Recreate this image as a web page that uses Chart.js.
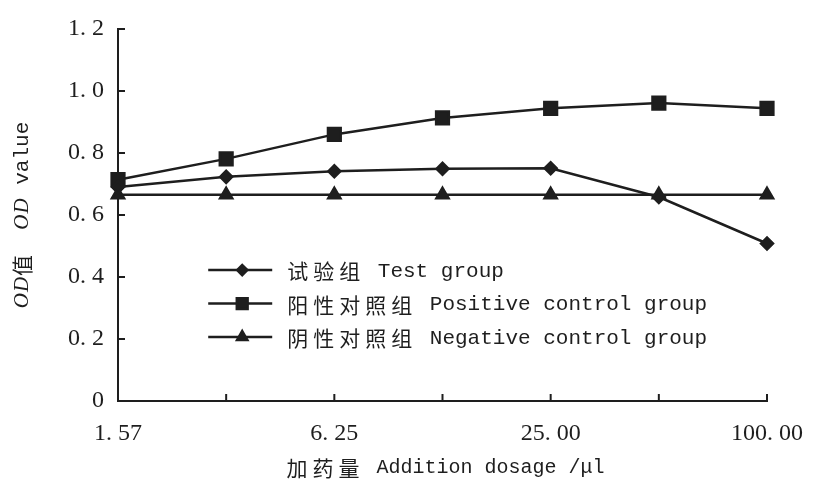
<!DOCTYPE html>
<html>
<head>
<meta charset="utf-8">
<script src="https://cdn.jsdelivr.net/npm/chart.js@4.4.0/dist/chart.umd.min.js"></script>
<style>
  html, body { margin: 0; padding: 0; background: #fff; }
  #wrap { width: 813px; height: 485px; }
</style>
</head>
<body>
<div id="wrap"><canvas id="myChart" width="813" height="485"></canvas></div>
<script>
// doses (ul), every other one gets a label
const doses = ['1.57', '3.13', '6.25', '12.50', '25.00', '50.00', '100.00'];
const xTickLabels = ['1. 57', '', '6. 25', '', '25. 00', '', '100. 00'];

const testGroup = [0.69, 0.723, 0.741, 0.749, 0.751, 0.658, 0.508];
const positiveGroup = [0.714, 0.781, 0.86, 0.913, 0.944, 0.961, 0.944];
const negativeGroup = [0.665, 0.665, 0.665, 0.665, 0.665, 0.665, 0.665];

const seriesCn = ['试验组', '阳性对照组', '阴性对照组'];
const seriesEn = ['Test group', 'Positive control group', 'Negative control group'];

const ink = '#1e1e1e';
const serif = "'Liberation Serif', 'Noto Sans CJK SC', serif";
const mono = "'Liberation Mono', monospace";
const cjk = "'Noto Sans CJK SC', sans-serif";

// draws a run of text pieces, each {t, font, ls}, returns end x
function drawRun(ctx, pieces, x, y) {
    pieces.forEach(function(p) {
        ctx.font = p.font;
        ctx.letterSpacing = (p.ls || 0) + 'px';
        ctx.fillText(p.t, x, y);
        x += ctx.measureText(p.t).width;
    });
    return x;
}
function runWidth(ctx, pieces) {
    let w = 0;
    pieces.forEach(function(p) {
        ctx.font = p.font;
        ctx.letterSpacing = (p.ls || 0) + 'px';
        w += ctx.measureText(p.t).width;
    });
    return w;
}

// short tick marks that point into the plot, plus the axis titles
const axisExtras = {
    id: 'axisExtras',
    afterDraw(chart) {
        const ctx = chart.ctx;
        const x = chart.scales.x, y = chart.scales.y;
        const a = chart.chartArea;
        ctx.save();
        ctx.strokeStyle = ink;
        ctx.lineWidth = 2;
        ctx.beginPath();
        y.ticks.forEach(function(t) {
            const py = y.getPixelForValue(t.value);
            ctx.moveTo(a.left, py);
            ctx.lineTo(a.left + 7, py);
        });
        for (let i = 0; i < doses.length; i++) {
            const px = x.getPixelForValue(i);
            ctx.moveTo(px, a.bottom);
            ctx.lineTo(px, a.bottom - 7);
        }
        ctx.stroke();

        ctx.fillStyle = ink;
        ctx.textBaseline = 'middle';
        // x title
        const xt = [
            { t: '加药量', font: '21px ' + cjk, ls: 5 },
            { t: ' Addition dosage /μl', font: '20px ' + mono, ls: 0 }
        ];
        const xw = runWidth(ctx, xt);
        drawRun(ctx, xt, (a.left + a.right) / 2 - xw / 2 + 3, chart.height - 17);

        // y title, rotated
        const yt = [
            { t: 'OD', font: 'italic 21px ' + serif, ls: 1 },
            { t: '值', font: '21px ' + cjk, ls: 0 },
            { t: '  ', font: '21px ' + mono, ls: 0 },
            { t: 'OD', font: 'italic 21px ' + serif, ls: 1 },
            { t: ' value', font: '21px ' + mono, ls: 0 }
        ];
        const yw = runWidth(ctx, yt);
        ctx.translate(22, (a.top + a.bottom) / 2);
        ctx.rotate(-Math.PI / 2);
        drawRun(ctx, yt, -yw / 2, 0);
        ctx.restore();
    }
};

// legend drawn inside the plot
const innerLegend = {
    id: 'innerLegend',
    afterDraw(chart) {
        const ctx = chart.ctx;
        const a = chart.chartArea;
        const x0 = a.left + 0.139 * (a.right - a.left);
        let yRow = a.top + 0.648 * (a.bottom - a.top);
        ctx.save();
        ctx.textBaseline = 'middle';
        chart.data.datasets.forEach(function(ds, i) {
            ctx.strokeStyle = ink;
            ctx.lineWidth = 2.5;
            ctx.beginPath();
            ctx.moveTo(x0, yRow);
            ctx.lineTo(x0 + 64, yRow);
            ctx.stroke();
            ctx.fillStyle = ink;
            Chart.helpers.drawPoint(ctx, {
                pointStyle: ds.pointStyle,
                radius: ds.pointRadius * 0.85,
                rotation: 0,
                borderWidth: 1
            }, x0 + 34, yRow);
            ctx.fillStyle = ink;
            drawRun(ctx, [
                { t: seriesCn[i], font: '21px ' + cjk, ls: 5 },
                { t: ' ' + seriesEn[i], font: '21px ' + mono, ls: 0 }
            ], x0 + 79, yRow + 1);
            yRow += 33.5;
        });
        ctx.restore();
    }
};

function makeSet(label, data, style, r) {
    return {
        label: label,
        data: data,
        borderColor: ink,
        backgroundColor: ink,
        borderWidth: 2.5,
        pointStyle: style,
        pointRadius: r,
        pointHoverRadius: r,
        pointBackgroundColor: ink,
        pointBorderColor: ink,
        tension: 0
    };
}

const ctx = document.getElementById('myChart').getContext('2d');
const myChart = new Chart(ctx, {
    type: 'line',
    data: {
        labels: doses,
        datasets: [
            makeSet(seriesCn[0] + ' ' + seriesEn[0], testGroup, 'rectRot', 6),
            makeSet(seriesCn[1] + ' ' + seriesEn[1], positiveGroup, 'rect', 9),
            makeSet(seriesCn[2] + ' ' + seriesEn[2], negativeGroup, 'triangle', 7)
        ]
    },
    options: {
        responsive: false,
        animation: false,
        layout: { padding: { top: 29, right: 46, left: 0, bottom: 0 } },
        plugins: {
            legend: { display: false },
            tooltip: { enabled: false },
            title: { display: false }
        },
        scales: {
            x: {
                offset: false,
                grid: { display: false, drawTicks: false },
                border: { display: true, color: ink, width: 2 },
                ticks: {
                    autoSkip: false,
                    maxRotation: 0,
                    padding: 18,
                    color: ink,
                    font: { family: serif, size: 24 },
                    callback: function(v, i) { return xTickLabels[i]; }
                },
                afterFit: function(s) {
                    s.height = 84;
                    s.paddingLeft = 0;
                    s.paddingRight = 0;
                }
            },
            y: {
                min: 0,
                max: 1.2,
                grid: { display: false, drawTicks: false },
                border: { display: true, color: ink, width: 2 },
                ticks: {
                    stepSize: 0.2,
                    padding: 14,
                    color: ink,
                    font: { family: serif, size: 24 },
                    callback: function(v) {
                        if (v === 0) return '0';
                        return v.toFixed(1).replace('.', '. ');
                    }
                },
                afterFit: function(s) { s.width = 118; }
            }
        }
    },
    plugins: [axisExtras, innerLegend]
});
</script>
</body>
</html>
